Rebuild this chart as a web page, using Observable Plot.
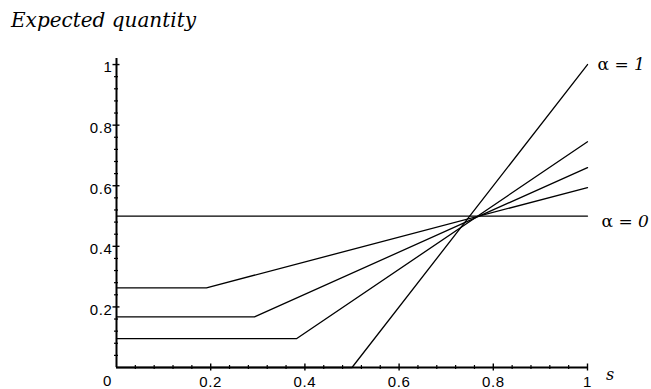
<!DOCTYPE html>
<html><head><meta charset="utf-8">
<script src="https://cdn.jsdelivr.net/npm/d3@7"></script>
<script src="https://cdn.jsdelivr.net/npm/@observablehq/plot@0.6"></script>
<style>
body{margin:0;background:#fff;width:651px;height:389px;overflow:hidden}
#title{height:40px;box-sizing:border-box;padding:10px 0 0 11px;font:italic 20px/20px "DejaVu Serif";color:#000;white-space:nowrap}
svg{display:block}
</style></head><body>
<div id="title">Expected quantity</div>
<div id="chart"></div>
<script>
// data
const seriesNames = ["α=0", "curve1", "curve2", "curve3", "α=1"];
const sPoints = [[0, 1], [0, 0.191, 1], [0, 0.293, 1], [0, 0.382, 1], [0, 0.5, 1]];
const qPoints = [[0.5, 0.5], [0.263, 0.263, 0.594], [0.167, 0.167, 0.66], [0.095, 0.095, 0.745], [0, 0, 1]];
const xMajor = [0.2, 0.4, 0.6, 0.8, 1];
const xTickLabels = ["0.2", "0.4", "0.6", "0.8", "1"];
const yMajor = [0.2, 0.4, 0.6, 0.8, 1];
const yTickLabels = ["0.2", "0.4", "0.6", "0.8", "1"];
const minorStep = 0.04;
const endLabels = [{s: 1, q: 1, alpha: "1"}, {s: 1, q: 0.5, alpha: "0"}];

const minor = d3.range(0, 25).map(i => +(i * minorStep).toFixed(2)).filter(v => v > 0 && !xMajor.some(m => Math.abs(m - v) < 1e-9));
const curves = seriesNames.flatMap((name, i) => sPoints[i].map((s, j) => ({name, s, q: qPoints[i][j]})));

const chart = Plot.plot({
  width: 651, height: 349,
  marginLeft: 116, marginRight: 64, marginTop: 18, marginBottom: 22,
  x: {domain: [0, 1], axis: null},
  y: {domain: [0, 1.02], axis: null},
  style: {fontFamily: "'Liberation Sans', Arial, sans-serif", fontSize: "15px", background: "white", color: "black", overflow: "visible", letterSpacing: "0.6px"},
  marks: [
    Plot.line(curves, {x: "s", y: "q", z: "name", stroke: "black", strokeWidth: 1.3}),
    Plot.ruleY([0], {stroke: "black", strokeWidth: 2}),
    Plot.ruleX([0], {stroke: "black", strokeWidth: 2}),
    Plot.ruleX(minor, {x: d => d, y1: 0, y2: 0, insetTop: -2, insetBottom: -2, stroke: "black", strokeWidth: 1.2}),
    Plot.ruleX(xMajor, {x: d => d, y1: 0, y2: 0, insetTop: -3.5, insetBottom: -3.5, stroke: "black", strokeWidth: 1.4}),
    Plot.ruleY(minor, {y: d => d, x1: 0, x2: 0, insetLeft: -2, insetRight: -2, stroke: "black", strokeWidth: 1.2}),
    Plot.ruleY(yMajor, {y: d => d, x1: 0, x2: 0, insetLeft: -3.5, insetRight: -3.5, stroke: "black", strokeWidth: 1.4}),
    Plot.text(xMajor, {x: d => d, y: 0, text: (d, i) => xTickLabels[i], dy: 15, fill: "black"}),
    Plot.text(yMajor, {x: 0, y: d => d, text: (d, i) => yTickLabels[i], dx: -4, dy: 3, textAnchor: "end", fill: "black"}),
    Plot.text(["0"], {x: 0, y: 0, text: d => d, dx: -9, dy: 14, fill: "black"}),
    Plot.text(["s"], {x: 1, y: 0, text: d => d, dx: 23, dy: 7, fill: "black", fontFamily: "'DejaVu Serif'", fontStyle: "italic", fontSize: 16}),
    Plot.text(endLabels, {x: "s", y: "q", text: d => "α = " + d.alpha, dx: 10, textAnchor: "start", fill: "black", fontFamily: "'DejaVu Serif'", fontSize: 17})
  ]
});
document.getElementById("chart").appendChild(chart);
// style the numeral after "=" in italics, keeping real text
d3.select(chart).selectAll("text").each(function() {
  const t = this.textContent;
  if (t.startsWith("α = ")) {
    const num = t.slice(4);
    const sel = d3.select(this);
    sel.text("").style("letter-spacing", "0px");
    sel.append("tspan").text("α = ");
    sel.append("tspan").attr("font-style", "italic").text(num);
    if (num === "0") sel.attr("transform", (sel.attr("transform") || "") + " translate(4,6)");
  }
});
</script>
</body></html>
